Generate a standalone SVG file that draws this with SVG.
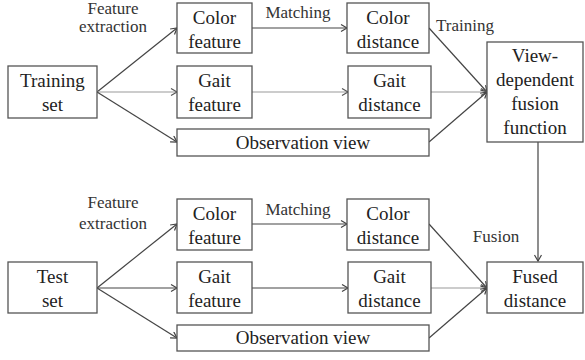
<svg xmlns="http://www.w3.org/2000/svg" width="585" height="360" viewBox="0 0 585 360">
  <style>
    .box { fill: #fff; stroke: #555; stroke-width: 1.3; }
    .t { font-family: "Liberation Serif", "Times New Roman", serif; font-size: 19px; fill: #222; text-anchor: middle; }
    .lbl { font-family: "Liberation Serif", "Times New Roman", serif; font-size: 17px; fill: #333; text-anchor: middle; }
    .ln { fill: none; stroke: #444; stroke-width: 1.2; marker-end: url(#arr); }
    .lt { fill: none; stroke: #9a9a9a; stroke-width: 1.2; marker-end: url(#arrl); }
  </style>
  <defs>
    <marker id="arr" markerUnits="userSpaceOnUse" markerWidth="10" markerHeight="10" refX="7" refY="4" orient="auto">
      <path d="M1,0.5 L7,4 L1,7.5" fill="none" stroke="#444" stroke-width="1.2"/>
    </marker>
    <marker id="arrl" markerUnits="userSpaceOnUse" markerWidth="10" markerHeight="10" refX="7" refY="4" orient="auto">
      <path d="M1,0.5 L7,4 L1,7.5" fill="none" stroke="#555" stroke-width="1.2"/>
    </marker>
  </defs>

  <rect width="585" height="360" fill="#fff"/>

  <!-- connectors -->
  <g id="connectors">
    <!-- training branch -->
    <path class="ln" d="M97,92 L177,28"/>
    <path class="lt" d="M97,92 L177,92"/>
    <path class="ln" d="M97,92 L177,142"/>
    <path class="ln" d="M252,28 L347,28"/>
    <path class="lt" d="M252,92 L348,92"/>
    <path class="ln" d="M429,28 L487,92"/>
    <path class="lt" d="M431,92 L487,92"/>
    <path class="ln" d="M429,142 L487,92"/>
    <path class="ln" d="M538,142 L538,261"/>
    <!-- test branch -->
    <path class="ln" d="M97,288 L177,224"/>
    <path class="ln" d="M97,288 L177,288"/>
    <path class="ln" d="M97,288 L177,338"/>
    <path class="ln" d="M252,224 L347,224"/>
    <path class="ln" d="M252,288 L348,288"/>
    <path class="ln" d="M429,224 L487,288"/>
    <path class="lt" d="M431,288 L487,288"/>
    <path class="ln" d="M429,338 L487,288"/>
  </g>

  <!-- edge labels -->
  <g id="labels">
    <text class="lbl" x="113" y="14">Feature</text>
    <text class="lbl" x="113" y="32">extraction</text>
    <text class="lbl" x="298" y="18">Matching</text>
    <text class="lbl" x="465" y="31">Training</text>
    <text class="lbl" x="113" y="208">Feature</text>
    <text class="lbl" x="113" y="229">extraction</text>
    <text class="lbl" x="298" y="215">Matching</text>
    <text class="lbl" x="496" y="242">Fusion</text>
  </g>

  <!-- training pipeline -->
  <g id="training-set">
    <rect class="box" x="8" y="66" width="89" height="52"/>
    <text class="t" x="52.5" y="87">Training</text>
    <text class="t" x="52.5" y="111">set</text>
  </g>
  <g id="train-color-feature">
    <rect class="box" x="177" y="3" width="75" height="50"/>
    <text class="t" x="214.5" y="24">Color</text>
    <text class="t" x="214.5" y="48">feature</text>
  </g>
  <g id="train-gait-feature">
    <rect class="box" x="177" y="66" width="75" height="52"/>
    <text class="t" x="214.5" y="87">Gait</text>
    <text class="t" x="214.5" y="111">feature</text>
  </g>
  <g id="train-observation-view">
    <rect class="box" x="177" y="129" width="252" height="27"/>
    <text class="t" x="303" y="148.5">Observation view</text>
  </g>
  <g id="train-color-distance">
    <rect class="box" x="347" y="3" width="82" height="50"/>
    <text class="t" x="388" y="24">Color</text>
    <text class="t" x="388" y="48">distance</text>
  </g>
  <g id="train-gait-distance">
    <rect class="box" x="348" y="66" width="83" height="52"/>
    <text class="t" x="389.5" y="87">Gait</text>
    <text class="t" x="389.5" y="111">distance</text>
  </g>
  <g id="fusion-function">
    <rect class="box" x="487" y="42" width="96" height="100"/>
    <text class="t" x="535" y="62">View-</text>
    <text class="t" x="535" y="86">dependent</text>
    <text class="t" x="535" y="110">fusion</text>
    <text class="t" x="535" y="134">function</text>
  </g>

  <!-- test pipeline -->
  <g id="test-set">
    <rect class="box" x="8" y="262" width="89" height="51"/>
    <text class="t" x="52.5" y="283">Test</text>
    <text class="t" x="52.5" y="307">set</text>
  </g>
  <g id="test-color-feature">
    <rect class="box" x="177" y="199" width="75" height="51"/>
    <text class="t" x="214.5" y="220">Color</text>
    <text class="t" x="214.5" y="244">feature</text>
  </g>
  <g id="test-gait-feature">
    <rect class="box" x="177" y="262" width="75" height="51"/>
    <text class="t" x="214.5" y="283">Gait</text>
    <text class="t" x="214.5" y="307">feature</text>
  </g>
  <g id="test-observation-view">
    <rect class="box" x="177" y="325" width="252" height="26"/>
    <text class="t" x="303" y="344">Observation view</text>
  </g>
  <g id="test-color-distance">
    <rect class="box" x="347" y="199" width="82" height="51"/>
    <text class="t" x="388" y="220">Color</text>
    <text class="t" x="388" y="244">distance</text>
  </g>
  <g id="test-gait-distance">
    <rect class="box" x="348" y="262" width="83" height="51"/>
    <text class="t" x="389.5" y="283">Gait</text>
    <text class="t" x="389.5" y="307">distance</text>
  </g>
  <g id="fused-distance">
    <rect class="box" x="487" y="262" width="96" height="51"/>
    <text class="t" x="535" y="283">Fused</text>
    <text class="t" x="535" y="307">distance</text>
  </g>
</svg>
